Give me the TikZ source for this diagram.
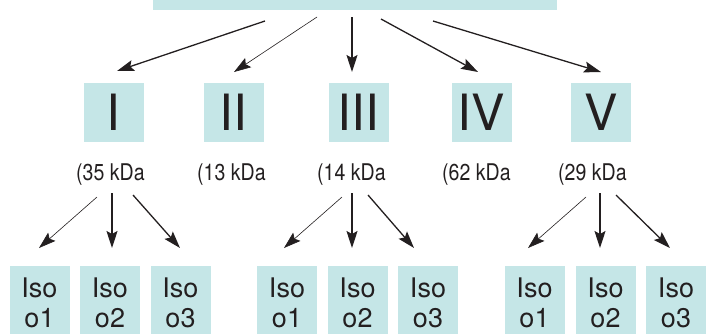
\documentclass[tikz,border=0pt]{standalone}
\usepackage{fontspec}
\setmainfont{TeX Gyre Heros}
\newfontfamily\narrowfont[FakeStretch=0.85]{TeX Gyre Heros}
\usetikzlibrary{arrows.meta}
\definecolor{boxfill}{HTML}{C5E6E7}
\definecolor{ink}{HTML}{231F20}
\tikzset{
  panel/.style={fill=boxfill, draw=none, inner sep=0pt},
  romanbox/.style={panel, minimum width=60pt, minimum height=59pt,
    font=\fontsize{50}{50}\selectfont, text=ink, text height=36pt, text depth=0pt},
  isobox/.style={panel, minimum width=60pt, minimum height=80pt, anchor=north},
  isotext/.style={inner sep=0pt, anchor=base, text=ink, font=\fontsize{27}{30}\selectfont},
  mass/.style={inner sep=0pt, anchor=base west, text=ink, font=\narrowfont\fontsize{23}{23}\selectfont},
  link/.style={draw=ink, line width=1.3pt, -{Stealth[length=17pt,width=11pt,inset=3pt]}},
  faint/.style={link, line width=0.6pt},
}
\begin{document}
\begin{tikzpicture}[x=1pt,y=-1pt]
\useasboundingbox (0,0) rectangle (707,333);
\clip (0,0) rectangle (707,333);

% family header (runs off the top edge)
\node[panel, minimum width=404pt, minimum height=40pt, anchor=south] (head) at (355,10) {};

% subgroup boxes
\foreach \nm/\cx/\txt in {I/113.5/I, II/233.5/II, III/358.5/III, IV/481.5/IV, V/601/V}
  \node[romanbox] (\nm) at (\cx,112.5) {\txt};

% molecular masses
\node[mass] (mI)   at (76,180)  {(35 kDa};
\node[mass] (mII)  at (197,180) {(13 kDa};
\node[mass] (mIII) at (317,180) {(14 kDa};
\node[mass] (mIV)  at (442,180) {(62 kDa};
\node[mass] (mV)   at (558,180) {(29 kDa};

% isoform boxes
\foreach \g/\cx in {a1/39.5, a2/110, a3/180.5, b1/287, b2/357.5, b3/428, c1/534.5, c2/605.5, c3/676}{
  \node[isobox] (\g) at (\cx,266) {};
  \node[isotext] at ([yshift=-31pt]\g.north) {Iso};
}
\foreach \g/\n in {a1/1, a2/2, a3/3, b1/1, b2/2, b3/3, c1/1, c2/2, c3/3}
  \node[isotext] at ([yshift=-61pt]\g.north) {o\n};

% arrows from the header to the subgroups
\coordinate (hI)   at (265,21);  \coordinate (eI)   at (117,71);
\coordinate (hII)  at (317,17);  \coordinate (eII)  at (234,72);
\coordinate (hIII) at (352,17);  \coordinate (eIII) at (352,72);
\coordinate (hIV)  at (381,19);  \coordinate (eIV)  at (478,72);
\coordinate (hV)   at (433,21);  \coordinate (eV)   at (601,72);
\draw[link]  (hI) -- (eI);
\draw[faint] (hII) -- (eII);
\draw[link]  (hIII) -- (eIII);
\draw[link]  (hIV) -- (eIV);
\draw[link]  (hV) -- (eV);

% arrows from the subgroups to their isoforms
\foreach \g/\sx/\ex in {a/97/39, b/342/284, c/586/528}{
  \coordinate (\g s1) at (\sx,197); \coordinate (\g e1) at (\ex,248);
}
\foreach \g/\sx in {a/112, b/352, c/600}{
  \coordinate (\g s2) at (\sx,193); \coordinate (\g e2) at (\sx,248);
}
\foreach \g/\sx/\ex in {a/133/180, b/368/414, c/616/670}{
  \coordinate (\g s3) at (\sx,195); \coordinate (\g e3) at (\ex,248);
}
\foreach \g in {a,b,c}{
  \draw[faint] (\g s1) -- (\g e1);
  \draw[link]  (\g s2) -- (\g e2);
  \draw[link]  (\g s3) -- (\g e3);
}
\end{tikzpicture}
\end{document}
